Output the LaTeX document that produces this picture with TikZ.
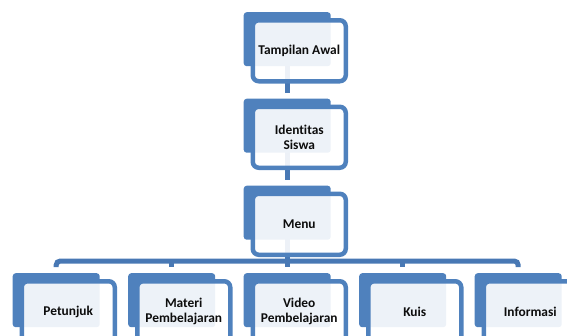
\documentclass[tikz,border=0pt]{standalone}
\usepackage{fontspec}
\setmainfont{Carlito}[Ligatures=NoCommon]
\usetikzlibrary{backgrounds}
\definecolor{sablue}{HTML}{4F81BD}
\definecolor{conn}{HTML}{4878B4}
\definecolor{txt}{HTML}{0D0D0D}
\begin{document}
\begin{tikzpicture}[x=1pt,y=-1pt,
  backbox/.style={fill=sablue, rounded corners=3pt, minimum width=87pt, minimum height=54pt, inner sep=0pt, anchor=north west},
  frontbox/.style={draw=sablue, line width=4.5pt, fill=white, fill opacity=0.9, text opacity=1, rounded corners=6pt, minimum width=93pt, minimum height=61pt, inner sep=0pt, anchor=north west, font=\fontsize{13.4}{15}\selectfont\bfseries, text=txt, align=center},
  link/.style={draw=conn, line width=5pt}]
\clip (0,0) rectangle (567,335);
% top column
\node[backbox] (b1) at (243.5,12) {};
\node[frontbox] (f1) at (250.5,18) {Tampilan Awal};
\node[backbox] (b2) at (243.5,98.5) {};
\node[frontbox] (f2) at (250.5,104.5) {Identitas\\Siswa};
\node[backbox] (b3) at (243.5,185.5) {};
\node[frontbox] (f3) at (250.5,191.5) {Menu};
% children
\node[backbox] (k1) at (12.5,273) {};
\node[frontbox] (g1) at (19.5,279) {Petunjuk};
\node[backbox] (k2) at (128,273) {};
\node[frontbox] (g2) at (135,279) {Materi\\Pembelajaran};
\node[backbox] (k3) at (243.5,273) {};
\node[frontbox] (g3) at (250.5,279) {Video\\Pembelajaran};
\node[backbox] (k4) at (359,273) {};
\node[frontbox] (g4) at (366,279) {Kuis};
\node[backbox] (k5) at (474.5,273) {};
\node[frontbox] (g5) at (481.5,279) {Informasi};
\begin{scope}[on background layer]
  \draw[link] (b1.center) -- ([yshift=6pt]b2.north);
  \draw[link] (b2.center) -- ([yshift=6pt]b3.north);
  \draw[link] (b3.center) -- ([yshift=6pt]k3.north);
  \draw[link, rounded corners=4pt] ([yshift=6pt]k1.north) |- ([yshift=12pt]k5.north) -- ([yshift=6pt]k5.north);
  \draw[link] ([yshift=12pt]k2.north) -- ([yshift=6pt]k2.north);
  \draw[link] ([yshift=12pt]k4.north) -- ([yshift=6pt]k4.north);
\end{scope}
\end{tikzpicture}
\end{document}
